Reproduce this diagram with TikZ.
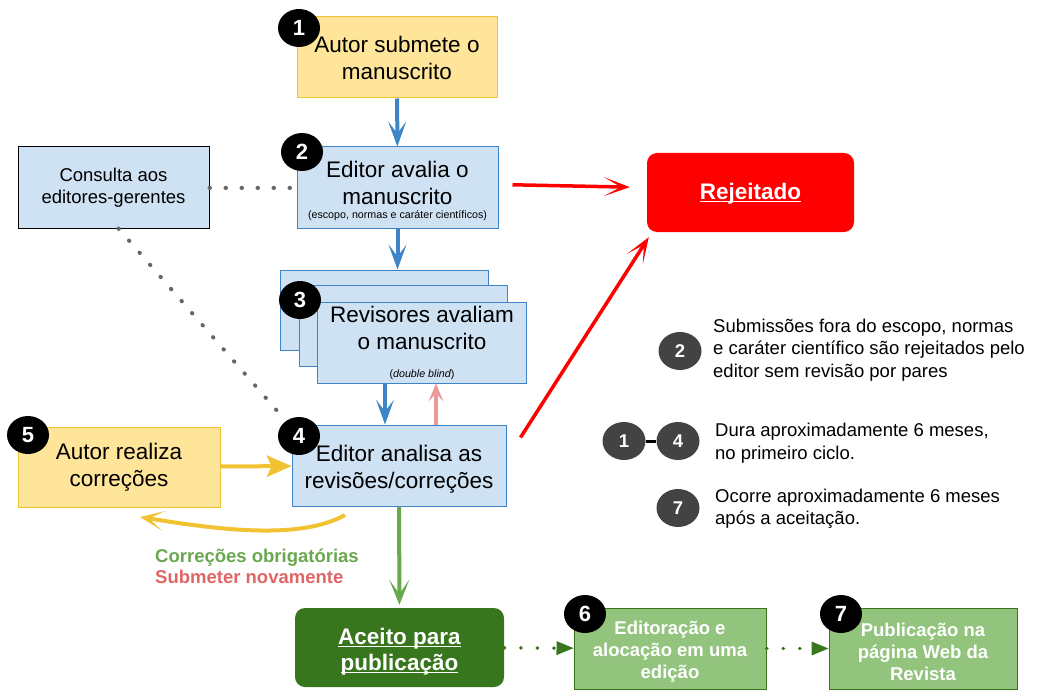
\documentclass[tikz,border=0pt]{standalone}
\usepackage{fontspec}
\setmainfont{Liberation Sans}
\usepackage{xcolor}
\usepackage{tikz}
\usetikzlibrary{positioning, arrows.meta, shapes.geometric}
\definecolor{yfill}{HTML}{FFE599}
\definecolor{ydraw}{HTML}{F1C232}
\definecolor{bfill}{HTML}{CFE2F3}
\definecolor{bdraw}{HTML}{3D85C6}
\definecolor{dgreen}{HTML}{38761D}
\definecolor{lgreen}{HTML}{93C47D}
\definecolor{agreen}{HTML}{6AA84F}
\definecolor{pinkarr}{HTML}{EA9999}
\definecolor{pinktxt}{HTML}{E06666}
\definecolor{dotgrey}{HTML}{666666}
\definecolor{keygrey}{HTML}{434343}
\newcommand{\ulink}[1]{\underline{\raisebox{0pt}[\height][0pt]{#1}}}

\begin{document}
\begin{tikzpicture}[x=1pt,y=-1pt]
	\tikzstyle{box}=[draw, line width=1pt, inner sep=0pt, align=center, minimum height=81pt, font=\fontsize{22.5}{27}\selectfont]
	\tikzstyle{final}=[rounded corners=10pt, inner sep=0pt, align=center, minimum height=79pt, text=white, font=\bfseries\fontsize{22.5}{26}\selectfont]
	\tikzstyle{pub}=[draw=dgreen, fill=lgreen, line width=1pt, inner sep=0pt, align=center, minimum height=81pt, text=white, font=\bfseries\fontsize{18.5}{22}\selectfont]
	\tikzstyle{num}=[ellipse, fill=black, text=white, inner sep=0pt, minimum width=42pt, minimum height=38pt, font=\bfseries\fontsize{22}{22}\selectfont]
	\tikzstyle{key}=[ellipse, fill=keygrey, text=white, inner sep=0pt, minimum width=43pt, minimum height=38pt, font=\bfseries\fontsize{18.5}{18.5}\selectfont]
	\tikzstyle{note}=[anchor=west, align=left, inner sep=0pt, font=\fontsize{18.5}{22.5}\selectfont]
	\tikzstyle{bluearrow}=[color=bdraw, line width=4pt, -{Stealth[length=25pt, width=18pt, inset=12pt, line width=0pt]}]
	\tikzstyle{pinkarrow}=[color=pinkarr, line width=4pt, -{Stealth[length=18pt, width=15pt, inset=8pt, line width=0pt]}]
	\tikzstyle{redarrow}=[color=red, line width=3.5pt, -{Stealth[length=26pt, width=19pt, inset=17pt, line width=0pt]}]
	\tikzstyle{yelarrow}=[color=ydraw, line width=4pt, -{Stealth[length=25pt, width=22pt, inset=5pt, line width=0pt]}]
	\tikzstyle{grnarrow}=[color=agreen, line width=4pt, -{Stealth[length=25pt, width=20pt, inset=14pt, line width=0pt]}]
	\tikzstyle{dotarrow}=[color=dgreen, line width=3.5pt, line cap=round, dash pattern=on 0.5pt off 16pt, -{Triangle[length=17pt, width=14pt, line width=0pt]}]
	\tikzstyle{dotline}=[color=dotgrey, line width=4pt, line cap=round, dash pattern=on 0.5pt off 15.5pt]
	\useasboundingbox (0,0) rectangle (1044,698);
	\node[box, fill=bfill, draw=black, minimum width=191pt, font=\fontsize{18.5}{21.5}\selectfont](con) at (113.5,187.5){Consulta aos\\editores-gerentes};
	\node[box, fill=yfill, draw=ydraw, minimum width=200pt](s1) at (397,57.5){Autor submete o\\manuscrito};
	\node[box, fill=bfill, draw=bdraw, minimum width=201pt](s2) at (397.5,187.5){\rule{0pt}{24pt}Editor avalia o\\manuscrito\\[-13pt]{\fontsize{10.7}{13}\selectfont(escopo, normas e caráter científicos)}};
	\node[box, fill=bfill, draw=bdraw, minimum width=208pt, minimum height=80pt](r3a) at (384,310){};
	\node[box, fill=bfill, draw=bdraw, minimum width=208pt](r3b) at (403,326){};
	\node[box, fill=bfill, draw=bdraw, minimum width=209pt](s3) at (422,342.5){Revisores avaliam\\o manuscrito\\[1pt]{\fontsize{10.7}{13}\selectfont({\itshape double blind})}};
	\node[box, fill=bfill, draw=bdraw, minimum width=214pt](s4) at (399,465.5){\rule{0pt}{24pt}Editor analisa as\\revisões/correções};
	\node[box, fill=yfill, draw=ydraw, minimum width=202pt, minimum height=80pt](s5) at (119,467){Autor realiza\\correções};
	\node[final, fill=red, minimum width=207pt](rej) at (750.5,192.5){\ulink{Rejeitado}};
	\node[final, fill=dgreen, minimum width=209pt](acc) at (399.5,647.5){\rule{0pt}{22pt}\ulink{Aceito para}\\\ulink{publicação}};
	\node[pub, minimum width=192pt](s6) at (670,648.5){\rule{0pt}{19.5pt}Editoração e\\alocação em uma\\edição};
	\node[pub, minimum width=188pt](s7) at (923,648.5){\rule{0pt}{19.5pt}Publicação na\\página Web da\\Revista};
	\node[num](b1) at (299,28){1};
	\node[num](b2) at (302,152){2};
	\node[num](b3) at (300,300){3};
	\node[num](b4) at (299,436){4};
	\node[num](b5) at (28,435){5};
	\node[num](b6) at (585,614){6};
	\node[num](b7) at (841,614){7};
	\path[bluearrow]
		(s1) edge (s2)
		(s2) edge (s2.south |- r3a.north)
		([xshift=-37pt]s3.south) edge ([xshift=-14pt]s4.north);
	\path[pinkarrow]
		([xshift=37pt]s4.north) edge ([xshift=14pt]s3.south);
	\path[redarrow]
		([yshift=3pt]s2.east) edge[shorten <=14pt, shorten >=17pt] ([yshift=5pt]rej.west)
		([xshift=14pt,yshift=-13pt]s4.north east) edge ([xshift=2pt,yshift=-5pt]rej.south west);
	\path[yelarrow] (s5) edge (s4);
	\coordinate (c1) at (345,515);
	\coordinate (c2) at (140,517);
	\draw[color=ydraw, line width=4pt, -{Stealth[length=24pt, width=20pt, inset=15pt, line width=0pt]}] (c1) .. controls (300,540) and (220,530) .. (c2);
	\path[grnarrow] (s4) edge[shorten >=3pt] (acc);
	\path[dotarrow]
		(acc) edge (s6)
		(s6) edge (s7);
	\path[dotline]
		(con) edge (s2)
		([xshift=5pt]con.south) edge (b4);
	\node[anchor=base west, inner sep=0pt, text=agreen, font=\bfseries\fontsize{18.5}{22}\selectfont](lab1) at (155,562){Correções obrigatórias};
	\node[anchor=base west, inner sep=0pt, text=pinktxt, font=\bfseries\fontsize{18.5}{22}\selectfont](lab2) at (155,583){Submeter novamente};
	\node[key](k2) at (680,351){2};
	\node[key](k1) at (624,441){1};
	\node[key](k4) at (678,441){4};
	\node[key](k7) at (678,508){7};
	\path[line width=3pt] (k1) edge (k4);
	\node[note](t2) at (713,350){Submissões fora do escopo, normas\\e caráter científico são rejeitados pelo\\editor sem revisão por pares};
	\node[note](t14) at (715,443){Dura aproximadamente 6 meses,\\no primeiro ciclo.};
	\node[note](t7) at (715,509){Ocorre aproximadamente 6 meses\\após a aceitação.};
\end{tikzpicture}
\end{document}
